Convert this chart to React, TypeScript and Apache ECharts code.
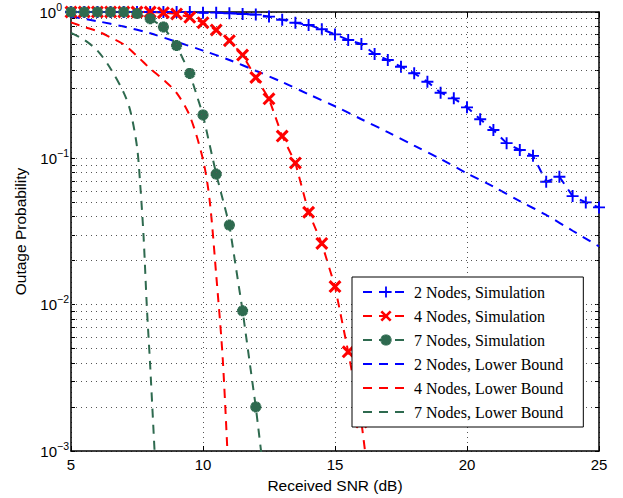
import React, { useEffect, useRef } from "react";
import * as echarts from "echarts";

// ---- data ----
const snrSim = [
  5, 5.5, 6, 6.5, 7, 7.5, 8, 8.5, 9, 9.5, 10, 10.5, 11, 11.5, 12, 12.5, 13, 13.5, 14, 14.5,
  15, 15.5, 16, 16.5, 17, 17.5, 18, 18.5, 19, 19.5, 20, 20.5, 21, 21.5, 22, 22.5, 23, 23.5, 24, 24.5, 25,
];
const sim2Nodes = [
  1, 1, 1, 1, 1, 1, 1, 1, 1, 1, 0.99, 0.99, 0.98, 0.97, 0.96, 0.93, 0.885, 0.845, 0.815, 0.762,
  0.703, 0.644, 0.604, 0.516, 0.47, 0.423, 0.381, 0.334, 0.281, 0.257, 0.223, 0.185, 0.156, 0.127, 0.114,
  0.104, 0.0692, 0.0748, 0.0552, 0.05, 0.0462,
];
const sim4Nodes = [
  1, 1, 1, 1, 1, 1, 1, 0.99, 0.97, 0.92, 0.845, 0.753, 0.637, 0.508, 0.357, 0.255, 0.142, 0.093,
  0.0428, 0.0262, 0.0133, 0.00476, 0.00158, 0.0003,
];
const sim7Nodes = [
  1, 1, 1, 1, 1, 0.975, 0.9, 0.79, 0.59, 0.38, 0.198, 0.078, 0.035, 0.00908, 0.002, 0.00035,
];
const lb2Snr = [5, 6, 7, 8, 9, 10, 11, 12, 13, 14, 15, 16, 17, 18, 19, 20, 21, 22, 23, 24, 25];
const lb2Nodes = [
  0.93, 0.865, 0.795, 0.715, 0.625, 0.545, 0.47, 0.397, 0.332, 0.274, 0.227, 0.185, 0.151, 0.122,
  0.099, 0.079, 0.064, 0.051, 0.041, 0.032, 0.025,
];
const lb4Snr = [5, 5.5, 6, 6.5, 7, 7.5, 8, 8.5, 9, 9.5, 10, 10.25, 10.5, 10.75, 11];
const lb4Nodes = [0.85, 0.79, 0.74, 0.67, 0.6, 0.5, 0.41, 0.345, 0.28, 0.195, 0.098, 0.052, 0.016, 0.0042, 0.0005];
const lb7Snr = [5, 5.5, 6, 6.5, 7, 7.25, 7.5, 7.625, 7.75, 7.875, 8, 8.25];
const lb7Nodes = [0.72, 0.645, 0.545, 0.41, 0.28, 0.21, 0.12, 0.065, 0.029, 0.0095, 0.0038, 0.0005];

const seriesNames = [
  "2 Nodes, Simulation",
  "4 Nodes, Simulation",
  "7 Nodes, Simulation",
  "2 Nodes, Lower Bound",
  "4 Nodes, Lower Bound",
  "7 Nodes, Lower Bound",
];
const yMajor = [0.001, 0.01, 0.1, 1];
const yMinor = [
  0.002, 0.003, 0.004, 0.005, 0.006, 0.007, 0.008, 0.009,
  0.02, 0.03, 0.04, 0.05, 0.06, 0.07, 0.08, 0.09,
  0.2, 0.3, 0.4, 0.5, 0.6, 0.7, 0.8, 0.9,
];

const BLUE = "#0000ff";
const RED = "#ff0000";
const GREEN = "#2e6a4f";

function barsPath(angles: number[], halfW: number): string {
  const c = 10;
  const L = 10;
  let d = "path://";
  for (const a of angles) {
    const r = (a * Math.PI) / 180;
    const ux = Math.cos(r), uy = Math.sin(r);
    const vx = -uy, vy = ux;
    const pts = [
      [c - ux * L - vx * halfW, c - uy * L - vy * halfW],
      [c + ux * L - vx * halfW, c + uy * L - vy * halfW],
      [c + ux * L + vx * halfW, c + uy * L + vy * halfW],
      [c - ux * L + vx * halfW, c - uy * L + vy * halfW],
    ];
    d += "M" + pts.map((p) => p[0].toFixed(2) + "," + p[1].toFixed(2)).join("L") + "Z";
  }
  return d;
}

const plusSym = barsPath([0, 90], 1.6);
const crossSym = barsPath([45, 135], 2.0);
const starSym = barsPath([0, 45, 90, 135], 3.2);

const zip = (xs: number[], ys: number[]) => ys.map((y, i) => [xs[i], y]);

export default function App() {
  const ref = useRef<HTMLDivElement>(null);
  useEffect(() => {
    if (!ref.current) return;
    const chart = echarts.init(ref.current, undefined, { renderer: "svg" });
    const axisFont = "Liberation Sans, Arial, sans-serif";
    const gridLine = { type: [1, 4] as number[], color: "#555", width: 1 };
    const dash = [9, 7];
    const simBase = (name: string, color: string, data: number[][], symbol: string, size: number) => ({
      name,
      type: "line",
      data,
      symbol,
      symbolSize: size,
      showSymbol: true,
      clip: true,
      lineStyle: { color, width: 2, type: dash },
      itemStyle: { color, borderWidth: 0 },
      emphasis: { disabled: true },
      z: 3,
    });
    const lbBase = (name: string, color: string, data: number[][]) => ({
      name,
      type: "line",
      data,
      symbol: "none",
      smooth: 0.3,
      clip: true,
      lineStyle: { color, width: 2, type: dash },
      itemStyle: { color },
      emphasis: { disabled: true },
      z: 2,
    });
    const legendData = seriesNames.map((n, i) =>
      i < 3 ? { name: n } : { name: n, itemStyle: { color: "rgba(0,0,0,0)", opacity: 0, borderWidth: 0 } }
    );
    const option: any = {
      animation: false,
      backgroundColor: "#fff",
      grid: { left: 71, right: 24, top: 12, bottom: 47, containLabel: false },
      xAxis: [
        {
          type: "value",
          min: 5,
          max: 25,
          interval: 5,
          position: "bottom",
          name: "Received SNR (dB)",
          nameLocation: "middle",
          nameGap: 26,
          nameTextStyle: { fontFamily: axisFont, fontSize: 15.5, color: "#000" },
          axisLine: { show: true, onZero: false, lineStyle: { color: "#000", width: 1.5 } },
          axisTick: { show: true, inside: true, length: 5, lineStyle: { color: "#000" } },
          axisLabel: { margin: 6, fontFamily: axisFont, fontSize: 15, color: "#000" },
          splitLine: { show: true, lineStyle: gridLine },
        },
        {
          type: "value",
          min: 5,
          max: 25,
          interval: 5,
          position: "top",
          axisLine: { show: true, onZero: false, lineStyle: { color: "#000", width: 1.5 } },
          axisTick: { show: true, inside: true, length: 5, lineStyle: { color: "#000" } },
          axisLabel: { show: false },
          splitLine: { show: false },
        },
      ],
      yAxis: [
        {
          type: "log",
          logBase: 10,
          min: 0.001,
          max: 1,
          position: "left",
          name: "Outage Probability",
          nameLocation: "middle",
          nameGap: 43,
          nameTextStyle: { fontFamily: axisFont, fontSize: 15.5, color: "#000" },
          axisLine: { show: true, onZero: false, lineStyle: { color: "#000", width: 1.5 } },
          axisTick: {
            show: true,
            inside: true,
            length: 4,
            customValues: [...yMajor, ...yMinor],
            lineStyle: { color: "#000" },
          },
          axisLabel: {
            margin: 2,
            formatter: (v: number) => {
              const e = Math.round(Math.log10(v));
              if (e === 0) return "{a|10}{c|0}";
              return "{a|10}{b|\u2212" + Math.abs(e) + "}";
            },
            rich: {
              a: { fontFamily: axisFont, fontSize: 15, color: "#000" },
              b: { fontFamily: axisFont, fontSize: 10.5, color: "#000", padding: [0, 0, 11, 0] },
              c: { fontFamily: axisFont, fontSize: 10.5, color: "#000", padding: [0, 7, 11, 0] },
            },
          },
          splitLine: { show: true, lineStyle: gridLine },
        },
        {
          type: "log",
          logBase: 10,
          min: 0.001,
          max: 1,
          position: "right",
          axisLine: { show: true, onZero: false, lineStyle: { color: "#000", width: 1.5 } },
          axisTick: {
            show: true,
            inside: true,
            length: 4,
            customValues: [...yMajor, ...yMinor],
            lineStyle: { color: "#000" },
          },
          axisLabel: { show: false },
          splitLine: { show: false },
        },
      ],
      legend: {
        orient: "vertical",
        left: 352,
        top: 277,
        padding: [7, 20, 7, 10],
        itemGap: 8,
        itemWidth: 46,
        itemHeight: 14,
        backgroundColor: "#fff",
        borderColor: "#000",
        borderWidth: 1,
        borderRadius: 0,
        selectedMode: false,
        data: legendData,
        textStyle: { fontFamily: "Liberation Serif, Times New Roman, serif", fontSize: 16, color: "#000" },
        z: 10,
      },
      series: [
        {
          name: "minor-grid",
          type: "line",
          data: [],
          symbol: "none",
          silent: true,
          z: 1,
          markLine: {
            silent: true,
            symbol: ["none", "none"],
            label: { show: false },
            lineStyle: gridLine,
            emphasis: { disabled: true },
            data: yMinor.map((v) => ({ yAxis: v })),
          },
        },
        simBase(seriesNames[0], BLUE, zip(snrSim, sim2Nodes), plusSym, 12),
        simBase(seriesNames[1], RED, zip(snrSim, sim4Nodes), crossSym, 13),
        simBase(seriesNames[2], GREEN, zip(snrSim, sim7Nodes), starSym, 11),
        lbBase(seriesNames[3], BLUE, zip(lb2Snr, lb2Nodes)),
        lbBase(seriesNames[4], RED, zip(lb4Snr, lb4Nodes)),
        lbBase(seriesNames[5], GREEN, zip(lb7Snr, lb7Nodes)),
      ],
    };
    chart.setOption(option);
    return () => chart.dispose();
  }, []);
  return (
    <div
      ref={ref}
      style={{ position: "fixed", left: 0, top: 0, width: 623, height: 498, background: "#fff" }}
    />
  );
}
